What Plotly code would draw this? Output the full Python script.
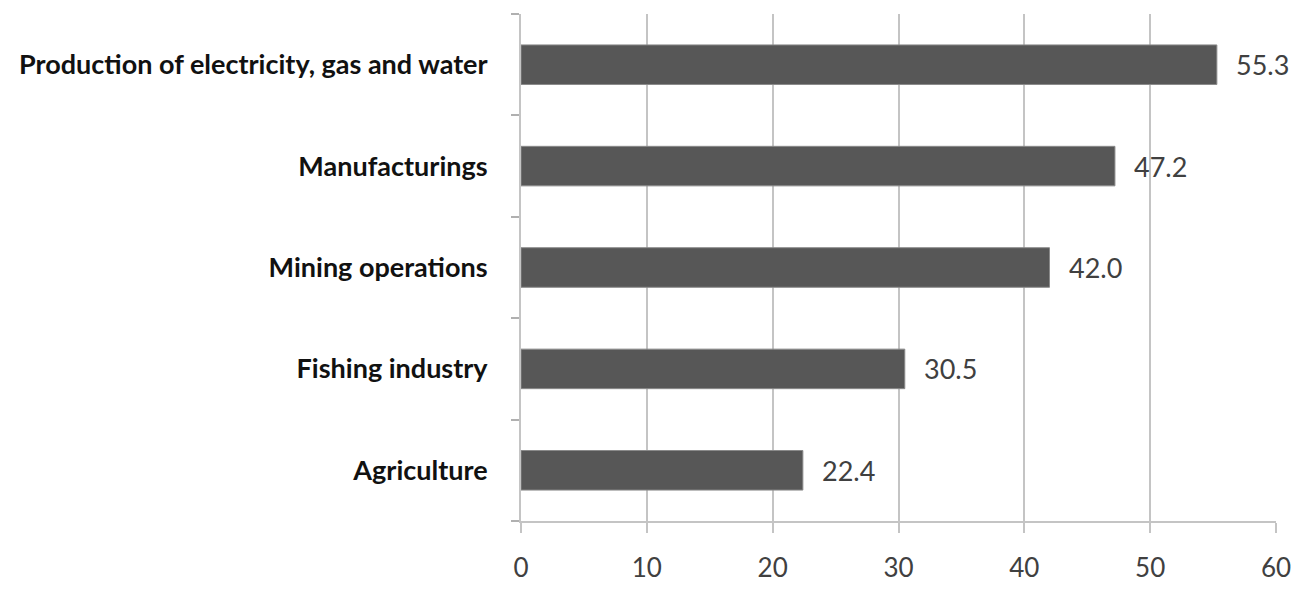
import plotly.graph_objects as go

categories = ["Agriculture", "Fishing industry", "Mining operations", "Manufacturings",
              "Production of electricity, gas and water"]
values = [22.4, 30.5, 42.0, 47.2, 55.3]
x_ticks = [0, 10, 20, 30, 40, 50, 60]

FONT = "Lato, Open Sans, sans-serif"

fig = go.Figure(go.Bar(
    x=values, y=categories, orientation="h",
    marker=dict(color="#575757", line=dict(color="#8a8a8a", width=1)),
    width=0.39,
))

for v, c in zip(values, categories):
    fig.add_annotation(x=v, y=c, text=f"{v:.1f}", showarrow=False,
                       xanchor="left", yanchor="middle", xshift=17,
                       font=dict(family=FONT, size=27, color="#404040"))

fig.update_layout(
    width=1296, height=590,
    margin=dict(l=521, r=20, t=14, b=69),
    plot_bgcolor="white", paper_bgcolor="white",
    showlegend=False,
    xaxis=dict(range=[0, 60], tickvals=x_ticks, showgrid=True, gridcolor="#c4c4c4", gridwidth=2,
               zeroline=False, showline=True, linecolor="#c4c4c4", linewidth=2,
               ticks="outside", ticklen=10, tickcolor="#c4c4c4", tickwidth=2,
               ticklabelstandoff=13, automargin=False,
               tickfont=dict(family=FONT, size=26, color="#404040")),
    yaxis=dict(range=[-0.5, 4.5], showgrid=False, zeroline=False, showline=True,
               linecolor="#c4c4c4", linewidth=2, ticks="outside", tickson="boundaries",
               ticklen=8, tickcolor="#b0b0b0", tickwidth=2, ticklabelstandoff=26,
               automargin=False,
               tickfont=dict(family=FONT, size=27, color="#111111", weight="bold")),
)

fig.write_html("out.html")
